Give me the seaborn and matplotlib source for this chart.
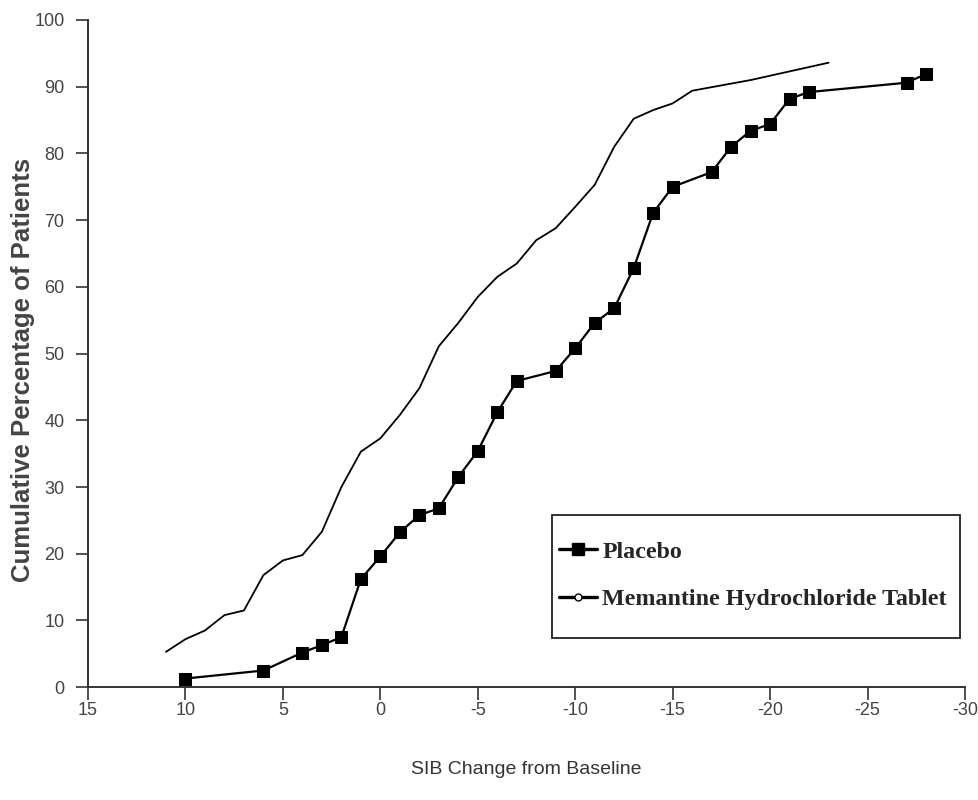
import matplotlib
matplotlib.use("Agg")
import matplotlib.pyplot as plt
from matplotlib.lines import Line2D
from matplotlib.patches import Rectangle
import seaborn as sns
import pandas as pd

placebo_x = [10, 6, 4, 3, 2, 1, 0, -1, -2, -3, -4, -5, -6, -7, -9, -10, -11, -12,
             -13, -14, -15, -17, -18, -19, -20, -21, -22, -27, -28]
placebo_y = [1.3, 2.5, 5.2, 6.3, 7.5, 16.2, 19.6, 23.2, 25.8, 26.8, 31.5, 35.4, 41.2,
             45.9, 47.4, 50.8, 54.6, 56.8, 62.8, 71.1, 75.0, 77.2, 81.0, 83.4, 84.4,
             88.2, 89.2, 90.6, 91.9]

mem_x = [11, 10, 9, 8, 7, 6, 5, 4, 3, 2, 1, 0, -1, -2, -3, -4, -5, -6, -7, -8, -9,
         -10, -11, -12, -13, -14, -15, -16, -19, -21, -23]
mem_y = [5.3, 7.2, 8.5, 10.8, 11.5, 16.8, 19.0, 19.8, 23.3, 30.0, 35.3, 37.3, 40.8,
         44.8, 51.1, 54.6, 58.5, 61.5, 63.5, 67.0, 68.8, 72.0, 75.3, 81.0, 85.2,
         86.5, 87.5, 89.4, 91.0, 92.3, 93.6]

x_ticks = [15, 10, 5, 0, -5, -10, -15, -20, -25, -30]
y_ticks = [0, 10, 20, 30, 40, 50, 60, 70, 80, 90, 100]

sns.set_style("ticks")
plt.rcParams["font.family"] = ["Liberation Sans", "DejaVu Sans"]

df_p = pd.DataFrame({"x": placebo_x, "y": placebo_y})
df_m = pd.DataFrame({"x": mem_x, "y": mem_y})

fig = plt.figure(figsize=(9.79, 8.0), dpi=100)
ax = fig.add_axes([0.0899, 0.141, 0.8958, 0.834])

sns.lineplot(data=df_m, x="x", y="y", sort=False, estimator=None, ax=ax,
             color="black", linewidth=1.3)
sns.lineplot(data=df_p, x="x", y="y", sort=False, estimator=None, ax=ax,
             color="black", linewidth=1.6, marker="s", markersize=9,
             markeredgecolor="black", markerfacecolor="black")

ax.set_xlim(15, -30)
ax.set_ylim(0, 100)
ax.set_xticks(x_ticks)
ax.set_yticks(y_ticks)
ax.set_xticklabels([str(t) for t in x_ticks])
ax.set_yticklabels([str(t) for t in y_ticks])
ax.tick_params(axis="both", direction="out", length=9, width=1.2, colors="#333333",
               labelsize=13, labelcolor="#444444")
ax.tick_params(axis="x", pad=2)
ax.tick_params(axis="y", pad=8)
for s in ["top", "right"]:
    ax.spines[s].set_visible(False)
for s in ["left", "bottom"]:
    ax.spines[s].set_color("#333333")
    ax.spines[s].set_linewidth(1.4)

ax.set_xlabel("SIB Change from Baseline", fontsize=14, color="#333333")
ax.xaxis.set_label_coords(0.5, -0.11)
ax.set_ylabel("Cumulative Percentage of Patients", fontsize=18.5, fontweight="bold",
              color="#444444")
ax.yaxis.set_label_coords(-0.06, 0.475)

# legend frame
ax.add_patch(Rectangle((0.529, 0.0735), 0.4653, 0.1845, transform=ax.transAxes,
                       facecolor="white", edgecolor="#222222", linewidth=1.3,
                       zorder=4, clip_on=False))

handles = [
    Line2D([0], [0], color="black", linewidth=2.4, marker="s", markersize=8,
           markerfacecolor="black"),
    Line2D([0], [0], color="black", linewidth=2.4, marker="o", markersize=5,
           markerfacecolor="white", markeredgecolor="black"),
]
leg = ax.legend(handles, ["Placebo", "Memantine Hydrochloride Tablet"],
                loc="upper left", bbox_to_anchor=(0.537, 0.219),
                prop={"family": "Liberation Serif", "weight": "bold", "size": 17.3},
                frameon=False, handlelength=1.6, handletextpad=0.2,
                borderpad=0, labelspacing=1.05, borderaxespad=0)
leg.set_zorder(5)

fig.savefig("out.png", dpi=100)
